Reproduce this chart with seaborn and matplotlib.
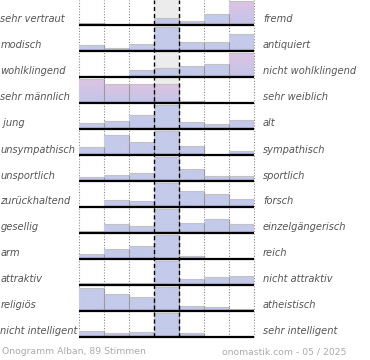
import numpy as np
import matplotlib
matplotlib.use("Agg")
import matplotlib.pyplot as plt
import matplotlib.colors as mcolors
import seaborn as sns

sns.set_style("white")
plt.rcParams['font.family'] = ['DejaVu Sans']

# ---- data (bar heights in percent of each row's maximum) ----
left_labels = ["sehr vertraut", "modisch", "wohlklingend", "sehr männlich", " jung",
               "unsympathisch", "unsportlich", "zurückhaltend", "gesellig", "arm",
               "attraktiv", "religiös", "nicht intelligent"]
right_labels = ["fremd", "antiquiert", "nicht wohlklingend", "sehr weiblich", "alt",
                "sympathisch", "sportlich", "forsch", "einzelgängerisch", "reich",
                "nicht attraktiv", "atheistisch", "sehr intelligent"]
bins = [1, 2, 3, 4, 5, 6, 7]
row_sehr_vertraut = [7, 0, 6, 28, 17, 45, 100]
row_modisch = [24, 11, 28, 100, 36, 36, 70]
row_wohlklingend = [5, 5, 30, 36, 45, 53, 100]
row_maennlich = [100, 78, 78, 78, 8, 0, 0]
row_jung = [25, 32, 58, 100, 28, 21, 36]
row_unsympathisch = [32, 82, 53, 100, 36, 0, 17]
row_unsportlich = [18, 26, 32, 100, 49, 22, 22]
row_zurueckhaltend = [5, 29, 24, 100, 68, 53, 35]
row_gesellig = [8, 37, 28, 100, 42, 58, 36]
row_arm = [22, 40, 55, 100, 12, 0, 5]
row_attraktiv = [10, 10, 10, 100, 24, 32, 36]
row_religioes = [95, 70, 60, 100, 22, 15, 10]
row_intelligent = [25, 17, 22, 100, 17, 0, 4]
rows = [row_sehr_vertraut, row_modisch, row_wohlklingend, row_maennlich, row_jung,
        row_unsympathisch, row_unsportlich, row_zurueckhaltend, row_gesellig, row_arm,
        row_attraktiv, row_religioes, row_intelligent]
footer_left = "Onogramm Alban, 89 Stimmen"
footer_right = "onomastik.com - 05 / 2025"

# ---- layout ----
W, H = 370, 360
fig = plt.figure(figsize=(W / 100, H / 100), dpi=100)
fig.patch.set_facecolor("white")
x_left, x_right = 79, 254
row_h = 26
first_base = 25
last_base = first_base + row_h * (len(rows) - 1)
ymax = 100 * row_h / 24.0

def fx(px):
    return px / W

def fy(py):
    return 1 - py / H

# background axes (grey neutral column, dotted separators)
bg = fig.add_axes([fx(x_left), fy(last_base), fx(x_right - x_left), last_base / H], zorder=0)
bg.set_xlim(-0.5, 6.5)
bg.set_ylim(0, 1)
bg.axis("off")
bg.axvspan(2.5, 3.5, color="#ececec", lw=0)
for xv in [-0.5, 0.5, 1.5, 4.5, 5.5, 6.5]:
    bg.axvline(xv, color="#8a8a8a", ls=(0, (1, 1.5)), lw=0.8, clip_on=False)

blue = np.array(mcolors.to_rgb("#c4caea"))
pink = np.array(mcolors.to_rgb("#ddc3e3"))
lav = np.array(mcolors.to_rgb("#c3c5e8"))
dark = np.array(mcolors.to_rgb("#9a8fc4"))

for i, vals in enumerate(rows):
    base = first_base + row_h * i
    ax = fig.add_axes([fx(x_left), fy(base), fx(x_right - x_left), row_h / H], zorder=1)
    ax.set_facecolor("none")
    sns.barplot(x=bins, y=vals, width=1, color="#c4caea", saturation=1,
                edgecolor="none", ax=ax)
    vmax = max(vals)
    mode = int(np.argmax(vals))
    for j, p in enumerate(list(ax.patches)):
        h = p.get_height()
        if h <= 0:
            continue
        x0 = p.get_x()
        w = p.get_width()
        hl = (mode != 3) and (vals[j] >= 0.75 * vmax)
        n = 80
        ys = np.linspace(0, h, n)
        t = ys / h
        if hl:
            col = lav[None, :] * (1 - t[:, None]) + pink[None, :] * t[:, None]
        else:
            col = np.repeat(blue[None, :], n, axis=0)
        pxh = ys * 24 / 100.0
        band = np.clip(1 - pxh / 2.2, 0, 1) ** 1.2
        col = col * (1 - band[:, None]) + dark[None, :] * band[:, None]
        img = col[:, None, :]
        im = ax.imshow(img, origin="lower", extent=[x0, x0 + w, 0, h], aspect="auto",
                       interpolation="bilinear", zorder=2)
        im.set_clip_path(p)
        p.set_facecolor("none")
        # edges: top light grey, right grey
        ax.plot([x0, x0 + w], [h, h], color="#c2c2c2", lw=0.8, zorder=3,
                solid_capstyle="butt")
        ax.plot([x0 + w, x0 + w], [0, h], color="#9a9a9a", lw=0.8, zorder=3,
                solid_capstyle="butt")
    ax.plot([-0.5, 6.5], [0, 0], color="black", lw=1.6, zorder=4,
            clip_on=False, solid_capstyle="butt")
    ax.set_xlim(-0.5, 6.5)
    ax.set_ylim(0, ymax)
    ax.axis("off")
    fig.text(fx(0.5), fy(base - 5.5), left_labels[i], ha="left", va="center",
             style="italic", color="#555555", fontsize=7.1)
    fig.text(fx(263), fy(base - 5.5), right_labels[i], ha="left", va="center",
             style="italic", color="#555555", fontsize=7.1)

# overlay dashed lines around neutral column
ov = fig.add_axes([fx(x_left), fy(last_base), fx(x_right - x_left), last_base / H], zorder=5)
ov.set_facecolor("none")
ov.set_xlim(-0.5, 6.5)
ov.set_ylim(0, 1)
ov.axis("off")
for xv in [2.5, 3.5]:
    ov.axvline(xv, color="black", ls=(0, (3, 2)), lw=1.0)

fig.text(fx(2), fy(352), footer_left, ha="left", va="center", color="#aaaaaa", fontsize=6.7)
fig.text(fx(346), fy(352), footer_right, ha="right", va="center", color="#aaaaaa", fontsize=6.7)

fig.savefig("out.png", dpi=100, facecolor="white")
